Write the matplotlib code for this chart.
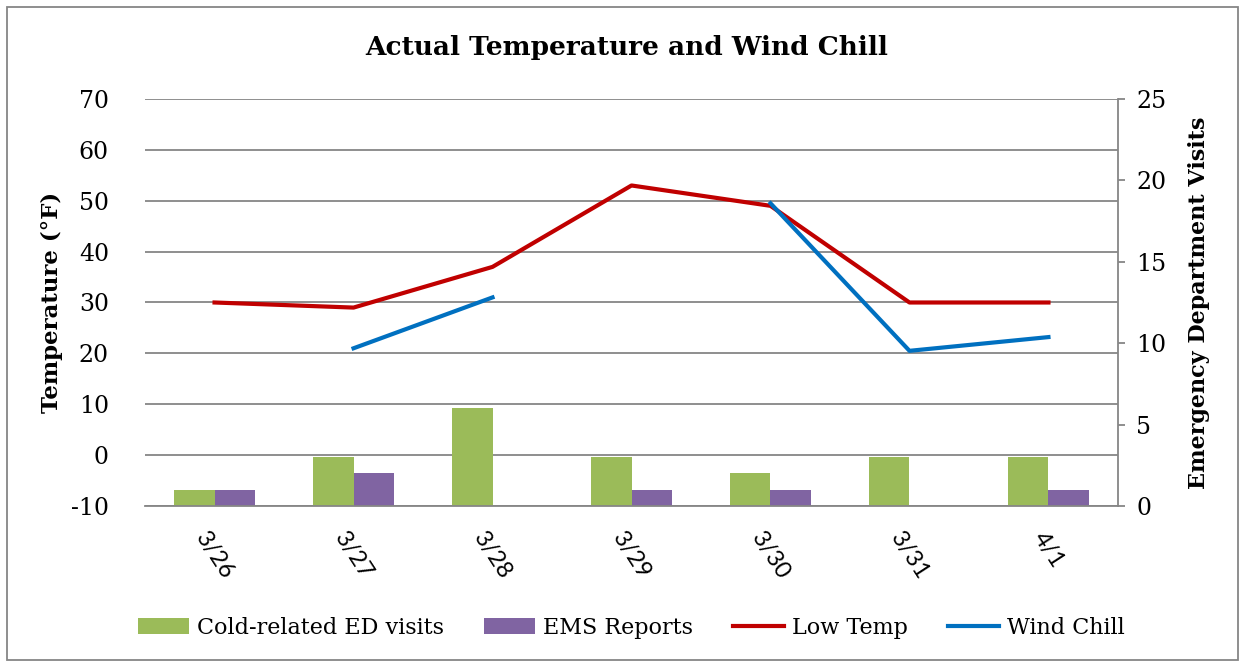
import numpy as np
import matplotlib
matplotlib.use("Agg")
import matplotlib.pyplot as plt
from matplotlib.patches import Rectangle

plt.rcParams['font.family'] = ['DejaVu Serif']
plt.rcParams['axes.unicode_minus'] = False

dates = ["3/26", "3/27", "3/28", "3/29", "3/30", "3/31", "4/1"]
ed_visits = [1, 3, 6, 3, 2, 3, 3]
ems_reports = [1, 2, 0, 1, 1, 0, 1]
low_temp = [30, 29, 37, 53, 49, 30, 30]
wind_chill = [np.nan, 21, 31, np.nan, 49.5, 20.5, 23.2]

green = "#9BBB59"
purple = "#8064A2"
red = "#C00000"
blue = "#0070C0"
gray = "#868686"

fig = plt.figure(figsize=(12.43, 6.63), dpi=100)
ax = fig.add_axes([0.1167, 0.2368, 0.7827, 0.6139])
ax2 = ax.twinx()

x = np.arange(len(dates))
w = 0.29

ax.set_ylim(-10, 70)
ax.set_yticks(range(-10, 71, 10))
ax.yaxis.grid(True, color=gray, lw=1.3)
ax.set_xlim(-0.5, len(dates) - 0.5)
ln1, = ax.plot(x, low_temp, color=red, lw=3, label="Low Temp")
ln2, = ax.plot(x, wind_chill, color=blue, lw=3, label="Wind Chill")

b1 = ax2.bar(x - w / 2, ed_visits, w, color=green, label="Cold-related ED visits")
b2 = ax2.bar(x + w / 2, ems_reports, w, color=purple, label="EMS Reports")
ax2.set_ylim(0, 25)
ax2.set_yticks(range(0, 26, 5))

for a in (ax, ax2):
    for s in a.spines.values():
        s.set_visible(False)
ax2.spines['right'].set_visible(True)
ax2.spines['right'].set_color(gray)
ax2.spines['right'].set_linewidth(1.3)
ax2.spines['bottom'].set_visible(True)
ax2.spines['bottom'].set_color(gray)
ax2.spines['bottom'].set_linewidth(1.3)

ax.tick_params(axis='y', length=0, labelsize=17, pad=26)
ax2.tick_params(axis='y', length=5, color=gray, width=1.3, labelsize=17, pad=8)
ax.tick_params(axis='x', length=0, pad=16)
ax.set_xticks(x)
ax.set_xticklabels(dates, rotation=-57, ha='center', fontsize=17,
                   family=['Lato', 'DejaVu Sans'])

ax.set_ylabel("Temperature (°F)", fontsize=16.5, fontweight='bold', labelpad=6)
ax2.set_ylabel("Emergency Department Visits", fontsize=16, fontweight='bold', labelpad=16)
fig.text(0.504, 0.928, "Actual Temperature and Wind Chill", ha='center', va='center',
         fontsize=19, fontweight='bold')

fig.legend([b1, b2, ln1, ln2], [h.get_label() for h in (b1, b2, ln1, ln2)],
           loc='center', bbox_to_anchor=(0.508, 0.053), ncol=4, frameon=False,
           fontsize=16, handlelength=2.3, columnspacing=1.8, handletextpad=0.35)

fig.patches.append(Rectangle((0.006, 0.004), 0.99, 0.985, transform=fig.transFigure,
                             fill=False, edgecolor=gray, lw=1.3))

fig.savefig("out.png", dpi=100)
